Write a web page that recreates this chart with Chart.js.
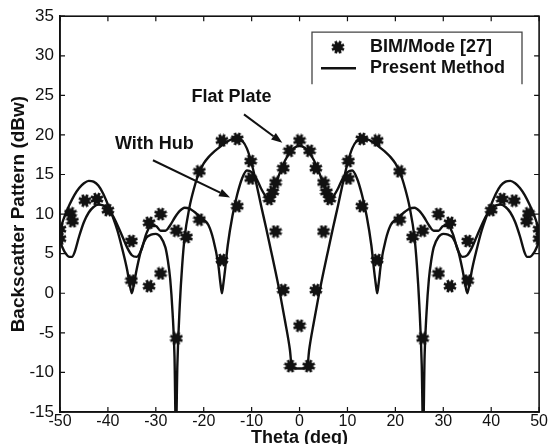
<!DOCTYPE html>
<html><head><meta charset="utf-8">
<script src="https://cdn.jsdelivr.net/npm/chart.js@4.4.1/dist/chart.umd.min.js"></script>
<style>html,body{margin:0;padding:0;background:#fff}</style>
</head><body>
<canvas id="c" width="550" height="444"></canvas>
<script>
// ---- data ----
const thetaA = [-50,-49,-48,-47,-46,-45,-44,-43,-42,-41,-40,-39,-38,-37,-36,-35.5,-35,-34.5,-34,-33,-32,-31,-30,-29,-28,-27.5,-27,-26.5,-26.1,-25.8,-25.5,-25,-24.5,-24,-23,-22,-21,-20,-19,-18,-17,-16,-15,-14,-13,-12,-11,-10,-9,-8,-7,-6,-5,-4,-3,-2,-1.6,-1,0,1,1.6,2,3,4,5,6,7,8,9,10,11,12,13,14,15,16,17,18,19,20,21,22,23,24,24.5,25,25.5,25.8,26.1,26.5,27,27.5,28,29,30,31,32,33,34,34.5,35,35.5,36,37,38,39,40,41,42,43,44,45,46,47,48,49,50];
const valuesA = [8.0,9.8,11.2,12.4,13.3,13.9,14.2,14.1,13.6,12.6,11.2,9.7,7.9,5.6,3.0,1.3,0.0,1.4,3.0,5.6,7.0,7.4,7.5,7.1,5.8,4.2,1.8,-2.5,-8,-18,-9,-1.5,3.5,7.0,10.8,13.3,15.2,16.4,17.2,17.8,18.3,18.8,19.2,19.5,19.6,19.3,18.3,16.4,13.8,11.0,8.3,5.5,2.7,-0.3,-3.6,-7.2,-9.4,-9.5,-9.5,-9.5,-9.4,-7.2,-3.6,-0.3,2.7,5.5,8.3,11.0,13.8,16.4,18.3,19.3,19.6,19.5,19.2,18.8,18.3,17.8,17.2,16.4,15.2,13.3,10.8,7.0,3.5,-1.5,-9,-18,-8,-2.5,1.8,4.2,5.8,7.1,7.5,7.4,7.0,5.6,3.0,1.4,0.0,1.3,3.0,5.6,7.9,9.7,11.2,12.6,13.6,14.1,14.2,13.9,13.3,12.4,11.2,9.8,8.0];

const thetaB = [-50,-49,-48,-47.5,-47,-46,-45,-44,-43,-42,-41,-40,-39,-38,-37,-36,-35,-34,-33,-32,-31,-30,-29,-28,-27,-26,-25,-24,-23,-22,-21,-20,-19,-18,-17,-16.5,-16.2,-15.9,-15.5,-15,-14,-13,-12,-11,-10,-9,-8,-7,-6.5,-6,-5,-4,-3,-2,-1,0,1,2,3,4,5,6,6.5,7,8,9,10,11,12,13,14,15,15.5,15.9,16.2,16.5,17,18,19,20,21,22,23,24,25,26,27,28,29,30,31,32,33,34,35,36,37,38,39,40,41,42,43,44,45,46,47,47.5,48,49,50];
const valuesB = [6.5,5.2,4.6,4.6,5.1,7.2,9.0,10.2,10.9,11.2,11.1,10.6,9.8,8.6,7.2,5.8,4.8,4.6,5.5,7.5,8.5,8.5,7.9,7.9,8.6,9.6,10.4,10.8,10.7,10.3,9.8,9.3,8.6,6.8,3.8,1.2,0.0,1.2,3.2,6.0,9.8,12.5,14.5,15.5,15.3,14.5,13.2,12.2,12.0,12.3,13.8,15.4,16.8,17.8,18.4,18.6,18.4,17.8,16.8,15.4,13.8,12.3,12.0,12.2,13.2,14.5,15.3,15.5,14.5,12.5,9.8,6.0,3.2,1.2,0.0,1.2,3.8,6.8,8.6,9.3,9.8,10.3,10.7,10.8,10.4,9.6,8.6,7.9,7.9,8.5,8.5,7.5,5.5,4.6,4.8,5.8,7.2,8.6,9.8,10.6,11.1,11.2,10.9,10.2,9.0,7.2,5.1,4.6,4.6,5.2,6.5];

const markerTheta = [-50,-50,-47.8,-47.4,-44.8,-42.3,-40,-35.1,-35.1,-31.4,-31.4,-29,-29,-25.7,-25.7,-23.6,-20.9,-20.9,-16.2,-16.2,-13,-13,-10.2,-10.2,-6.3,-5.6,-5,-5,-3.4,-3.4,-2.1,-1.9,0,0,1.9,2.1,3.4,3.4,5,5,5.6,6.3,10.2,10.2,13,13,16.2,16.2,20.9,20.9,23.6,25.7,25.7,29,29,31.4,31.4,35.1,35.1,40,42.3,44.8,47.4,47.8,50,50];
const markerValue = [8.1,6.9,10.1,9.1,11.7,11.9,10.5,6.6,1.6,8.9,0.9,10.0,2.5,7.9,-5.7,7.1,15.4,9.3,4.2,19.3,19.5,11.0,16.7,14.5,11.9,12.8,14.0,7.8,15.8,0.4,18.0,-9.2,19.3,-4.1,-9.2,18.0,15.8,0.4,14.0,7.8,12.8,11.9,16.7,14.5,19.5,11.0,4.2,19.3,15.4,9.3,7.1,7.9,-5.7,10.0,2.5,8.9,0.9,6.6,1.6,10.5,11.9,11.7,9.1,10.1,8.1,6.9];

const xRange = [-50, 50], xStep = 10;
const yRange = [-15, 35], yStep = 5;
const legendLabels = ['BIM/Mode [27]', 'Present Method'];
const annotations = [
  {text: 'Flat Plate', x: -14.2, y: 24.8, from: [-11.6, 22.6], to: [-3.6, 19.0]},
  {text: 'With Hub',  x: -30.3, y: 18.8, from: [-30.6, 16.8], to: [-14.5, 12.1]}
];

// ---- styles ----
const FONT = '"Liberation Sans", Arial, Helvetica, sans-serif';
const INK = '#111';

function makeStar(size) {
  const c = document.createElement('canvas');
  c.width = size; c.height = size;
  const g = c.getContext('2d');
  const r = size / 2;
  g.strokeStyle = INK; g.fillStyle = INK; g.lineWidth = 2.8; g.lineCap = 'butt';
  for (let i = 0; i < 4; i++) {
    const a = i * Math.PI / 4 + Math.PI / 8;
    g.beginPath();
    g.moveTo(r + Math.cos(a) * (r - 0.5), r + Math.sin(a) * (r - 0.5));
    g.lineTo(r - Math.cos(a) * (r - 0.5), r - Math.sin(a) * (r - 0.5));
    g.stroke();
  }
  g.beginPath(); g.arc(r, r, r * 0.66, 0, Math.PI * 2); g.fill();
  return c;
}
const star = makeStar(14);

const toXY = (xs, ys) => xs.map((x, i) => ({x, y: ys[i]}));

const decor = {
  id: 'decor',
  afterDraw(chart) {
    const {ctx, chartArea: a, scales: {x, y}} = chart;
    ctx.save();
    ctx.strokeStyle = INK; ctx.lineWidth = 1.6;
    ctx.strokeRect(a.left, a.top, a.right - a.left, a.bottom - a.top);
    ctx.lineWidth = 1.2;
    for (let v = xRange[0]; v <= xRange[1]; v += xStep) {
      const px = x.getPixelForValue(v);
      ctx.beginPath();
      ctx.moveTo(px, a.bottom); ctx.lineTo(px, a.bottom - 5);
      ctx.moveTo(px, a.top); ctx.lineTo(px, a.top + 5);
      ctx.stroke();
    }
    for (let v = yRange[0]; v <= yRange[1]; v += yStep) {
      const py = y.getPixelForValue(v);
      ctx.beginPath();
      ctx.moveTo(a.left, py); ctx.lineTo(a.left + 5, py);
      ctx.moveTo(a.right, py); ctx.lineTo(a.right - 5, py);
      ctx.stroke();
    }
    ctx.fillStyle = INK;
    ctx.font = 'bold 18px ' + FONT;
    ctx.textAlign = 'center'; ctx.textBaseline = 'middle';
    annotations.forEach(an => {
      ctx.fillText(an.text, x.getPixelForValue(an.x), y.getPixelForValue(an.y));
      const x0 = x.getPixelForValue(an.from[0]), y0 = y.getPixelForValue(an.from[1]);
      const x1 = x.getPixelForValue(an.to[0]), y1 = y.getPixelForValue(an.to[1]);
      const ang = Math.atan2(y1 - y0, x1 - x0);
      const L = 11, W = 4;
      ctx.lineWidth = 2;
      ctx.beginPath(); ctx.moveTo(x0, y0);
      ctx.lineTo(x1 - Math.cos(ang) * L, y1 - Math.sin(ang) * L); ctx.stroke();
      ctx.beginPath();
      ctx.moveTo(x1, y1);
      ctx.lineTo(x1 - Math.cos(ang) * L - Math.sin(ang) * W, y1 - Math.sin(ang) * L + Math.cos(ang) * W);
      ctx.lineTo(x1 - Math.cos(ang) * L + Math.sin(ang) * W, y1 - Math.sin(ang) * L - Math.cos(ang) * W);
      ctx.closePath(); ctx.fill();
    });
    const bx0 = a.left + 252, by0 = a.top + 16, bx1 = a.left + 462, by1 = a.top + 68;
    ctx.fillStyle = '#fff';
    ctx.fillRect(bx0, by0, bx1 - bx0, by1 - by0);
    ctx.strokeStyle = '#444'; ctx.lineWidth = 1.3;
    ctx.beginPath();
    ctx.moveTo(bx0, by1); ctx.lineTo(bx0, by0); ctx.lineTo(bx1, by0); ctx.lineTo(bx1, by1);
    ctx.stroke();
    ctx.drawImage(star, bx0 + 26 - 7, by0 + 15 - 7);
    ctx.strokeStyle = INK; ctx.lineWidth = 2.5;
    ctx.beginPath(); ctx.moveTo(bx0 + 9, by0 + 36); ctx.lineTo(bx0 + 44, by0 + 36); ctx.stroke();
    ctx.fillStyle = INK; ctx.font = 'bold 18px ' + FONT;
    ctx.textAlign = 'left';
    ctx.fillText(legendLabels[0], bx0 + 58, by0 + 15);
    ctx.fillText(legendLabels[1], bx0 + 58, by0 + 36);
    ctx.restore();
  }
};

new Chart(document.getElementById('c'), {
  data: {
    datasets: [
      {type: 'scatter', label: legendLabels[0], data: toXY(markerTheta, markerValue),
       pointStyle: star, pointRadius: 7, order: 0},
      {type: 'line', label: legendLabels[1], data: toXY(thetaA, valuesA),
       borderColor: INK, borderWidth: 2.4, pointRadius: 0, cubicInterpolationMode: 'monotone', order: 1},
      {type: 'line', label: legendLabels[1], data: toXY(thetaB, valuesB),
       borderColor: INK, borderWidth: 2.4, pointRadius: 0, cubicInterpolationMode: 'monotone', order: 1}
    ]
  },
  options: {
    responsive: false, animation: false,
    layout: {padding: {top: 14, right: 8, left: 0, bottom: 0}},
    plugins: {legend: {display: false}, tooltip: {enabled: false}},
    scales: {
      x: {type: 'linear', min: xRange[0], max: xRange[1],
          afterFit: s => { s.height = 32; },
          ticks: {stepSize: xStep, color: INK, padding: 2, font: {family: FONT, size: 16, lineHeight: 1.0}},
          grid: {display: false, drawTicks: false},
          border: {color: INK, width: 1.6},
          title: {display: true, text: 'Theta (deg)', color: INK, padding: {top: 0, bottom: 0},
                  font: {family: FONT, size: 18, weight: 'bold', lineHeight: 0.7}}},
      y: {type: 'linear', min: yRange[0], max: yRange[1],
          afterFit: s => { s.width = 60; },
          ticks: {stepSize: yStep, color: INK, padding: 6, font: {family: FONT, size: 17}},
          grid: {display: false, drawTicks: false},
          border: {color: INK, width: 1.6},
          title: {display: true, text: 'Backscatter Pattern (dBw)', color: INK, padding: {top: 7, bottom: 0},
                  font: {family: FONT, size: 19, weight: 'bold', lineHeight: 1.2}}}
    }
  },
  plugins: [decor]
});
</script>
</body></html>
